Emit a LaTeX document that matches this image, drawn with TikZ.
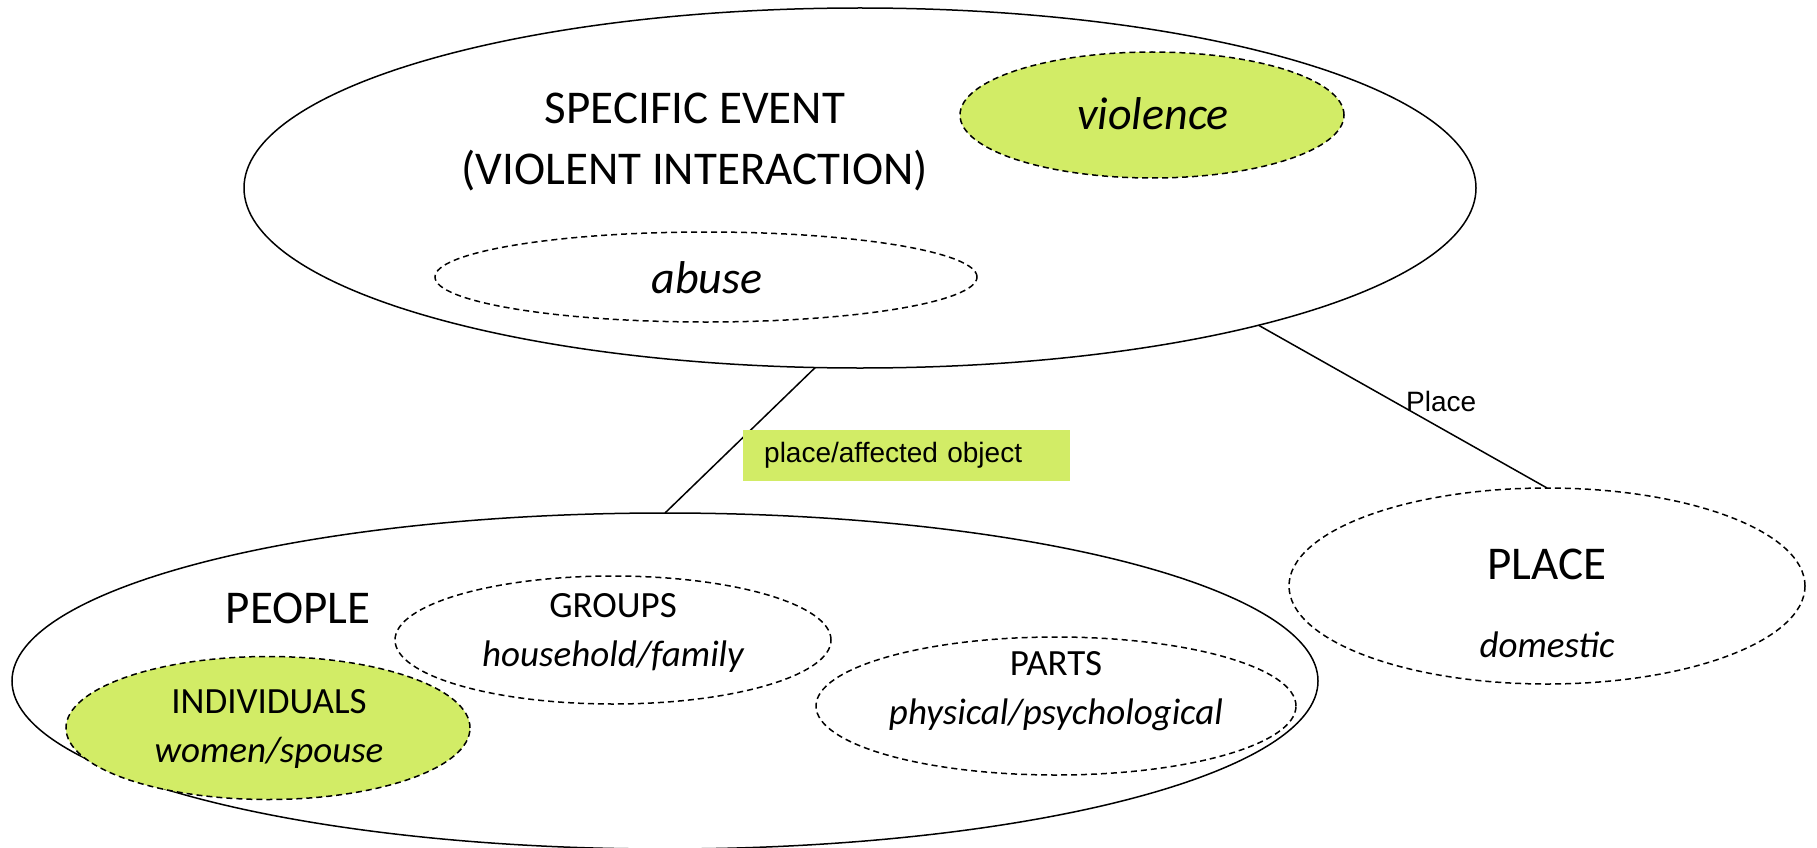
\documentclass[tikz,border=0pt]{standalone}
\usepackage{fontspec}
\setmainfont{Carlito}
\newfontfamily\arialfont{Liberation Sans}
\usetikzlibrary{shapes.geometric}
\definecolor{lime}{RGB}{210,236,102}
\tikzset{
  ell/.style={ellipse, draw=black, line width=1.5pt, inner sep=0pt, outer sep=0pt},
  dashell/.style={ell, dash pattern=on 6pt off 4pt},
  big/.style={font=\fontsize{47}{56}\selectfont, inner sep=0pt},
  bigit/.style={font=\fontsize{46}{55}\selectfont\itshape, inner sep=0pt},
  mid/.style={font=\fontsize{37}{44}\selectfont, inner sep=0pt},
  midit/.style={font=\fontsize{37}{44}\selectfont\itshape, inner sep=0pt},
  conn/.style={draw=black, line width=1.5pt},
  arial/.style={font=\arialfont\fontsize{28}{33}\selectfont, inner sep=0pt},
}
\begin{document}
\begin{tikzpicture}[x=1pt, y=-1pt]
\useasboundingbox (0,0) rectangle (1817,848);
% top event ellipse
\node[ell, minimum width=1232pt, minimum height=360pt] (event) at (860,188) {};
\node[dashell, fill=lime, minimum width=384pt, minimum height=126pt] (violence) at (1152,115) {};
\node[dashell, minimum width=542pt, minimum height=90pt] (abuse) at (706,277) {};
\node[big] (evt1) at (695,108) {SPECIFIC EVENT};
\node[big] (evt2) at (695,171) {(VIOLENT INTERACTION)};
\node[bigit] (violt) at (1153,114) {violence};
\node[bigit] (abuset) at (707,278) {abuse};
% people ellipse
\node[ell, minimum width=1306pt, minimum height=336pt] (people) at (665,681) {};
\node[dashell, minimum width=436pt, minimum height=128pt] (groups) at (613,640) {};
\node[dashell, minimum width=480pt, minimum height=138pt] (parts) at (1056,706) {};
\node[dashell, fill=lime, minimum width=404pt, minimum height=143pt] (indiv) at (268,728) {};
\node[big] (peoplet) at (298,608) {PEOPLE};
\node[mid] (groupst) at (613,606) {GROUPS};
\node[midit] (groupsi) at (613,657) {household/family};
\node[mid] (partst) at (1056,664) {PARTS};
\node[midit] (partsi) at (1056,715) {physical/psychological};
\node[mid] (indivt) at (269,702) {INDIVIDUALS};
\node[midit] (indivi) at (269,753) {women/spouse};
% place ellipse
\node[dashell, minimum width=516pt, minimum height=196pt] (place) at (1547,586) {};
\node[big] (placet) at (1547,564) {PLACE};
\node[midit] (placei) at (1547,645) {domestic};
% connectors
\draw[conn] (event.256.7) -- (people.north);
\draw[conn] (event.341) -- (place.north);
\node[arial, anchor=west] (placelbl) at (1406,401) {Place};
\node[fill=lime, anchor=west, minimum width=327pt, minimum height=51pt, inner xsep=21pt, inner ysep=0pt, text width=285pt, align=left, font=\arialfont\fontsize{28}{33}\selectfont] (affect) at (743,455) {place/affected object};
\end{tikzpicture}
\end{document}
